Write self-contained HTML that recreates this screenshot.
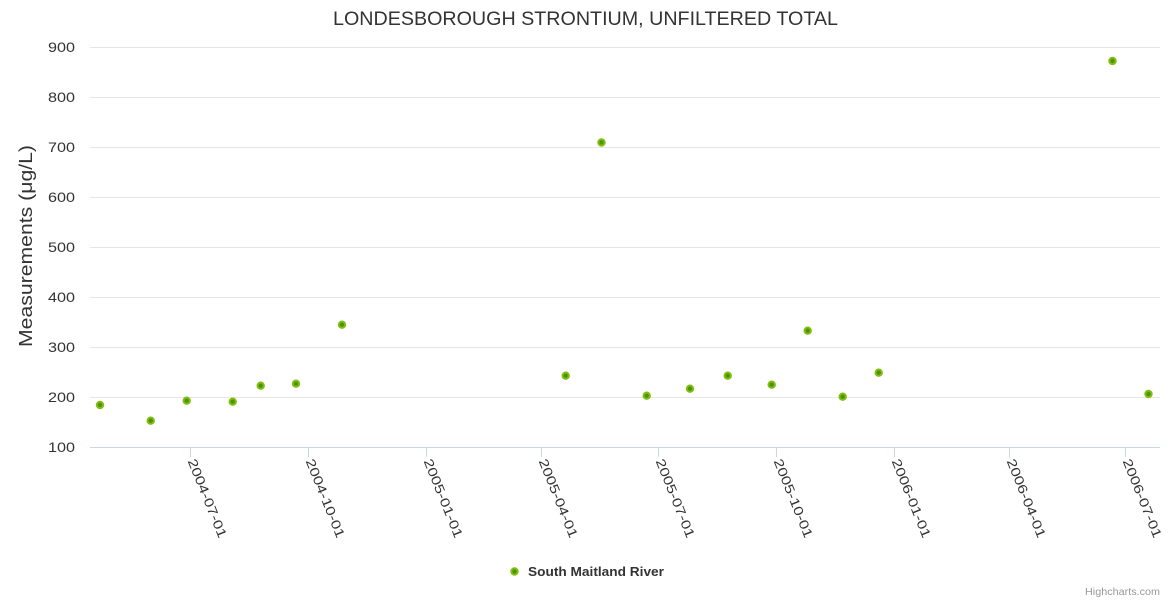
<!DOCTYPE html>
<html><head><meta charset="utf-8"><style>
html,body{margin:0;padding:0;background:#fff;}
svg{display:block;font-family:"Liberation Sans","DejaVu Sans",sans-serif;}
</style></head><body>
<svg width="1170" height="600" viewBox="0 0 1170 600" xmlns="http://www.w3.org/2000/svg">
<rect width="1170" height="600" fill="#fff"/>
<text x="585.5" y="25" text-anchor="middle" font-size="19" fill="#333333" textLength="505" lengthAdjust="spacingAndGlyphs">LONDESBOROUGH STRONTIUM, UNFILTERED TOTAL</text>
<g stroke="#e6e6e6" stroke-width="1">
<line x1="90" y1="47.5" x2="1160" y2="47.5"/>
<line x1="90" y1="97.5" x2="1160" y2="97.5"/>
<line x1="90" y1="147.5" x2="1160" y2="147.5"/>
<line x1="90" y1="197.5" x2="1160" y2="197.5"/>
<line x1="90" y1="247.5" x2="1160" y2="247.5"/>
<line x1="90" y1="297.5" x2="1160" y2="297.5"/>
<line x1="90" y1="347.5" x2="1160" y2="347.5"/>
<line x1="90" y1="397.5" x2="1160" y2="397.5"/>
</g>
<line x1="90" y1="447.5" x2="1160" y2="447.5" stroke="#ccd6eb" stroke-width="1"/>
<g stroke="#ccd6eb" stroke-width="1">
<line x1="190.5" y1="447" x2="190.5" y2="457"/>
<line x1="308.5" y1="447" x2="308.5" y2="457"/>
<line x1="426.5" y1="447" x2="426.5" y2="457"/>
<line x1="541.5" y1="447" x2="541.5" y2="457"/>
<line x1="658.5" y1="447" x2="658.5" y2="457"/>
<line x1="776.5" y1="447" x2="776.5" y2="457"/>
<line x1="894.5" y1="447" x2="894.5" y2="457"/>
<line x1="1009.5" y1="447" x2="1009.5" y2="457"/>
<line x1="1125.5" y1="447" x2="1125.5" y2="457"/>
</g>
<g font-size="14" fill="#333333" text-anchor="end">
<text x="75" y="52" textLength="27" lengthAdjust="spacingAndGlyphs">900</text>
<text x="75" y="102" textLength="27" lengthAdjust="spacingAndGlyphs">800</text>
<text x="75" y="152" textLength="27" lengthAdjust="spacingAndGlyphs">700</text>
<text x="75" y="202" textLength="27" lengthAdjust="spacingAndGlyphs">600</text>
<text x="75" y="252" textLength="27" lengthAdjust="spacingAndGlyphs">500</text>
<text x="75" y="302" textLength="27" lengthAdjust="spacingAndGlyphs">400</text>
<text x="75" y="352" textLength="27" lengthAdjust="spacingAndGlyphs">300</text>
<text x="75" y="402" textLength="27" lengthAdjust="spacingAndGlyphs">200</text>
<text x="75" y="452" textLength="27" lengthAdjust="spacingAndGlyphs">100</text>
</g>
<text transform="translate(32,246) rotate(-90)" text-anchor="middle" font-size="18" fill="#333333" textLength="202" lengthAdjust="spacingAndGlyphs">Measurements (μg/L)</text>
<g font-size="13" fill="#333333">
<text transform="translate(187.5,461) rotate(68)" textLength="84" lengthAdjust="spacingAndGlyphs">2004-07-01</text>
<text transform="translate(305.5,461) rotate(68)" textLength="84" lengthAdjust="spacingAndGlyphs">2004-10-01</text>
<text transform="translate(423.5,461) rotate(68)" textLength="84" lengthAdjust="spacingAndGlyphs">2005-01-01</text>
<text transform="translate(538.5,461) rotate(68)" textLength="84" lengthAdjust="spacingAndGlyphs">2005-04-01</text>
<text transform="translate(655.5,461) rotate(68)" textLength="84" lengthAdjust="spacingAndGlyphs">2005-07-01</text>
<text transform="translate(773.5,461) rotate(68)" textLength="84" lengthAdjust="spacingAndGlyphs">2005-10-01</text>
<text transform="translate(891.5,461) rotate(68)" textLength="84" lengthAdjust="spacingAndGlyphs">2006-01-01</text>
<text transform="translate(1006.5,461) rotate(68)" textLength="84" lengthAdjust="spacingAndGlyphs">2006-04-01</text>
<text transform="translate(1122.5,461) rotate(68)" textLength="84" lengthAdjust="spacingAndGlyphs">2006-07-01</text>
</g>
<g fill="#4a9600" stroke="#84bd12" stroke-width="2">
<circle cx="100" cy="405" r="3.2"/>
<circle cx="150.7" cy="420.7" r="3.2"/>
<circle cx="186.7" cy="400.7" r="3.2"/>
<circle cx="232.7" cy="401.7" r="3.2"/>
<circle cx="260.7" cy="385.7" r="3.2"/>
<circle cx="296" cy="383.7" r="3.2"/>
<circle cx="342" cy="324.7" r="3.2"/>
<circle cx="565.7" cy="375.7" r="3.2"/>
<circle cx="601.5" cy="142.5" r="3.2"/>
<circle cx="646.7" cy="395.7" r="3.2"/>
<circle cx="690" cy="388.7" r="3.2"/>
<circle cx="727.7" cy="375.7" r="3.2"/>
<circle cx="771.7" cy="384.7" r="3.2"/>
<circle cx="807.7" cy="330.7" r="3.2"/>
<circle cx="842.7" cy="396.7" r="3.2"/>
<circle cx="878.7" cy="372.7" r="3.2"/>
<circle cx="1112.5" cy="61" r="3.2"/>
<circle cx="1148.5" cy="394" r="3.2"/>
</g>
<circle cx="514.5" cy="571.5" r="3.2" fill="#4a9600" stroke="#84bd12" stroke-width="2"/>
<text x="528" y="576" font-size="12.5" font-weight="bold" fill="#333333" textLength="136" lengthAdjust="spacingAndGlyphs">South Maitland River</text>
<text x="1160" y="595" text-anchor="end" font-size="10" fill="#999999" textLength="75" lengthAdjust="spacingAndGlyphs">Highcharts.com</text>
</svg>
</body></html>
